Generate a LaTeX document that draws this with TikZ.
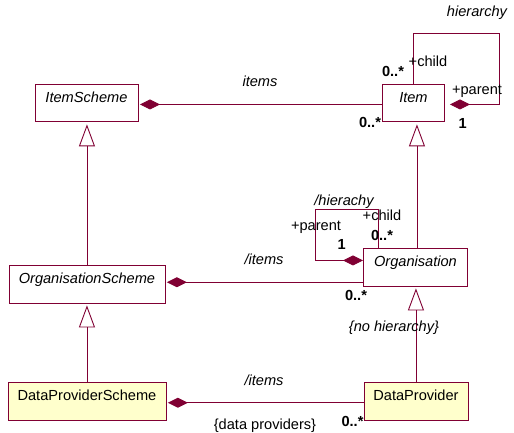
\documentclass[tikz,border=0pt]{standalone}
\usepackage{fontspec}
\setmainfont{Liberation Sans}
\usetikzlibrary{arrows.meta}
\definecolor{umlline}{RGB}{128,0,51}
\definecolor{umlfill}{RGB}{255,255,204}

\begin{document}
\begin{tikzpicture}[x=1pt, y=-1pt, font=\fontsize{14.6}{16}\selectfont,
  umlclass/.style={draw=umlline, line width=0.9pt, anchor=north west, inner sep=0pt, text height=18.5pt, text depth=19pt},
  abstract/.style={umlclass, font=\fontsize{14.6}{16}\selectfont\itshape},
  concrete/.style={umlclass, fill=umlfill},
  tag/.style={inner sep=0pt, anchor=base},
  role/.style={tag, font=\fontsize{14.6}{16}\selectfont\itshape},
  multi/.style={tag, font=\fontsize{14.6}{16}\selectfont\bfseries},
  comp/.style={draw=umlline, line width=0.9pt, {Diamond[length=20pt, width=10pt]}-, shorten <=1.5pt},
  gen/.style={draw=umlline, line width=0.9pt, -{Triangle[open, length=22pt, width=16pt]}, shorten >=2pt}]

\useasboundingbox (0,0) rectangle (514,433);

% Classes
\node[abstract, minimum width=103pt] (itemscheme) at (34.5,84) {ItemScheme};
\node[abstract, minimum width=62pt] (item) at (382,84) {Item};
\node[abstract, minimum width=156pt] (orgscheme) at (8.5,265) {OrganisationScheme};
\node[abstract, minimum width=104pt] (org) at (363,248) {Organisation};
\node[concrete, minimum width=158pt] (dpscheme) at (7.5,382) {DataProviderScheme};
\node[concrete, minimum width=104pt] (dp) at (363.5,382) {DataProvider};

% Compositions
\draw[comp] ([yshift=-1.25pt]itemscheme.east) -- ([yshift=-1.25pt]itemscheme.east -| item.west);
\draw[comp] ([yshift=2pt]orgscheme.east) -- ([yshift=2pt]orgscheme.east -| org.west);
\draw[comp] ([yshift=-1.5pt]dpscheme.east) -- ([yshift=-1.5pt]dpscheme.east -| dp.west);

% Hierarchies
\coordinate (itemhier) at (499,33);
\coordinate (orghier) at (315.7,209.3);
\draw[comp, shorten <=5pt] ([yshift=-1.25pt]item.east) -| (itemhier) -| (item.north);
\draw[comp, shorten <=0pt] ([yshift=6.75pt]org.west) -| (orghier) -| ([xshift=-36.7pt]org.north);

% Generalisations
\draw[gen] (orgscheme.north) -- (orgscheme.north |- itemscheme.south);
\draw[gen] (dpscheme.north) -- (dpscheme.north |- orgscheme.south);
\draw[gen] ([xshift=1.5pt]org.north) -- ([xshift=1.5pt]org.north |- item.south);
\draw[gen] (dp.north) -- (dp.north |- org.south);

% Labels
\node[role] (itemsrole) at (260,86.7) {items};
\node[multi] (itemsmany) at (370,128) {0..*};
\node[role] (itemhierrole) at (477,17) {hierarchy};
\node[tag] (itemchild) at (428,67) {+child};
\node[multi] (itemchildmany) at (393,76.5) {0..*};
\node[tag] (itemparent) at (477,94.3) {+parent};
\node[multi] (itemone) at (462.7,128.3) {1};

\node[role] (orghierrole) at (344,205.5) {/hierachy};
\node[tag] (orgparent) at (316,230.5) {+parent};
\node[tag] (orgchild) at (382,220.7) {+child};
\node[multi] (orgone) at (341.7,249.3) {1};
\node[multi] (orgchildmany) at (382,240) {0..*};
\node[role] (orgitems) at (264,264.5) {/items};
\node[multi] (orgmany) at (356,300.7) {0..*};
\node[role] (nohier) at (394,331) {\{no hierarchy\}};

\node[role] (dpitems) at (264,385.7) {/items};
\node[tag] (dpset) at (265,429) {\{data providers\}};
\node[multi] (dpmany) at (352.5,426.7) {0..*};

\end{tikzpicture}
\end{document}
